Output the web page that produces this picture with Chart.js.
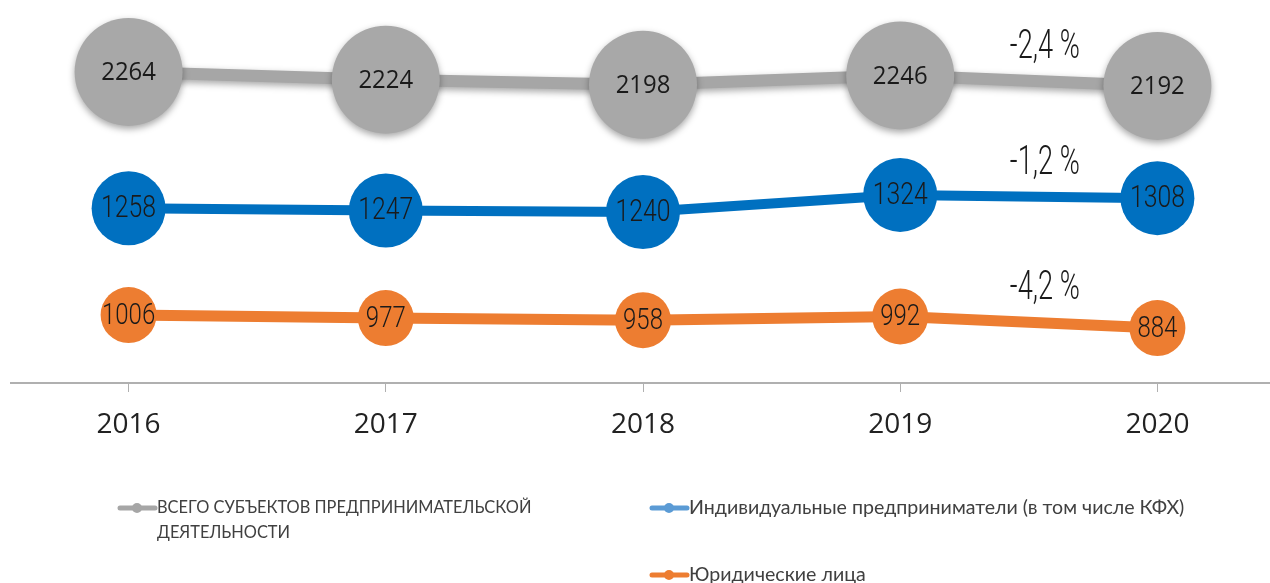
<!DOCTYPE html>
<html>
<head>
<meta charset="utf-8">
<script src="https://cdn.jsdelivr.net/npm/chart.js@4.4.1/dist/chart.umd.min.js"></script>
<style>
html,body{margin:0;padding:0;background:#fff;overflow:hidden;}
#wrap{width:1286px;height:583px;}
</style>
</head>
<body>
<div id="wrap"><canvas id="c" width="1286" height="583"></canvas></div>
<script>
const years = ['2016','2017','2018','2019','2020'];
const totalLabel = 'ВСЕГО СУБЪЕКТОВ ПРЕДПРИНИМАТЕЛЬСКОЙ ДЕЯТЕЛЬНОСТИ';
const ipLabel = 'Индивидуальные предприниматели (в том числе КФХ)';
const ulLabel = 'Юридические лица';
const totalValues = [2264, 2224, 2198, 2246, 2192];
const ipValues = [1258, 1247, 1240, 1324, 1308];
const ulValues = [1006, 977, 958, 992, 884];
const changeLabels = ['-2,4 %', '-1,2 %', '-4,2 %'];

const GRAY = '#a6a6a6', BLUE = '#0070c0', ORANGE = '#ed7d31';

const shadowPlugin = {
  id: 'shadow',
  beforeDatasetDraw(chart, args) {
    if (args.index === 0) {
      const ctx = chart.ctx;
      ctx.save();
      ctx.shadowColor = 'rgba(0,0,0,0.35)';
      ctx.shadowBlur = 7;
      ctx.shadowOffsetY = 3;
    }
  },
  afterDatasetDraw(chart, args) {
    if (args.index === 0) chart.ctx.restore();
  }
};

const labelPlugin = {
  id: 'labels',
  afterDatasetsDraw(chart) {
    const ctx = chart.ctx;
    const fonts = [
      {font: '26px "Open Sans"', sx: 0.92},
      {font: '300 31px Roboto', sx: 0.8},
      {font: '300 30px Roboto', sx: 0.8}
    ];
    chart.data.datasets.forEach((ds, di) => {
      const meta = chart.getDatasetMeta(di);
      meta.data.forEach((pt, i) => {
        ctx.save();
        ctx.translate(pt.x, pt.y);
        ctx.scale(fonts[di].sx, 1);
        ctx.font = fonts[di].font;
        ctx.fillStyle = '#1a1a1a';
        ctx.textAlign = 'center';
        ctx.textBaseline = 'middle';
        ctx.fillText(String(ds.data[i]), 0, 1);
        ctx.restore();
      });
      const n = meta.data.length;
      const a = meta.data[n - 2], b = meta.data[n - 1];
      const mx = (a.x + b.x) / 2 + 16;
      const my = (a.y + b.y) / 2 - 33;
      ctx.save();
      ctx.translate(mx, my);
      ctx.scale(0.68, 1);
      ctx.font = '300 40px Roboto';
      ctx.fillStyle = '#1a1a1a';
      ctx.textAlign = 'center';
      ctx.textBaseline = 'middle';
      ctx.fillText(changeLabels[di], 0, 0);
      ctx.restore();
    });
  }
};

const legendPlugin = {
  id: 'customLegend',
  afterDraw(chart) {
    const ctx = chart.ctx;
    // cover axis line start (reference axis begins slightly inside the left edge)
    ctx.save();
    ctx.fillStyle = '#fff';
    ctx.fillRect(0, chart.chartArea.bottom - 3, 10, 6);
    ctx.restore();
    const items = [
      {color: GRAY, x: 118, y: 508, size: 16.4, lines: ['ВСЕГО СУБЪЕКТОВ ПРЕДПРИНИМАТЕЛЬСКОЙ', 'ДЕЯТЕЛЬНОСТИ']},
      {color: '#5b9bd5', x: 650, y: 508, size: 19.6, lines: [ipLabel]},
      {color: ORANGE, x: 650, y: 575, size: 19.6, lines: [ulLabel]}
    ];
    items.forEach(it => {
      ctx.save();
      ctx.strokeStyle = it.color;
      ctx.lineWidth = 5;
      ctx.lineCap = 'round';
      ctx.beginPath();
      ctx.moveTo(it.x + 2, it.y);
      ctx.lineTo(it.x + 37, it.y);
      ctx.stroke();
      ctx.fillStyle = it.color;
      ctx.beginPath();
      ctx.arc(it.x + 19, it.y, 5, 0, Math.PI * 2);
      ctx.fill();
      ctx.font = it.size + 'px Lato';
      ctx.fillStyle = '#404040';
      ctx.textAlign = 'left';
      ctx.textBaseline = 'middle';
      it.lines.forEach((l, k) => ctx.fillText(l, it.x + 39, it.y + k * 25));
      ctx.restore();
    });
  }
};

new Chart(document.getElementById('c'), {
  type: 'line',
  data: {
    labels: years,
    datasets: [
      {label: totalLabel, data: totalValues, yAxisID: 'yG', borderColor: GRAY, borderWidth: 12, clip: false,
       pointRadius: 54, pointBackgroundColor: '#a8a8a8', pointBorderWidth: 0, pointHoverRadius: 54},
      {label: ipLabel, data: ipValues, yAxisID: 'yB', borderColor: BLUE, borderWidth: 10, clip: false,
       pointRadius: 37, pointBackgroundColor: BLUE, pointBorderWidth: 0, pointHoverRadius: 37},
      {label: ulLabel, data: ulValues, yAxisID: 'yO', borderColor: ORANGE, borderWidth: 11, clip: false,
       pointRadius: 28, pointBackgroundColor: ORANGE, pointBorderWidth: 0, pointHoverRadius: 28}
    ]
  },
  options: {
    responsive: false,
    animation: false,
    layout: {padding: 0, autoPadding: false},
    plugins: {legend: {display: false}, tooltip: {enabled: false}},
    scales: {
      x: {
        offset: true,
        afterFit(s) { s.height = 200; },
        border: {display: true, color: '#b0b0b0', width: 2},
        grid: {display: true, drawOnChartArea: false, drawTicks: true, tickLength: 9, color: '#b0b0b0', offset: false},
        ticks: {color: '#222', font: {family: 'Open Sans', size: 28}, padding: 16}
      },
      yG: {display: false, min: 664, max: 2634},
      yB: {display: false, min: 395, max: 2287},
      yO: {display: false, min: 368, max: 3962}
    }
  },
  plugins: [shadowPlugin, labelPlugin, legendPlugin]
});
</script>
</body>
</html>
